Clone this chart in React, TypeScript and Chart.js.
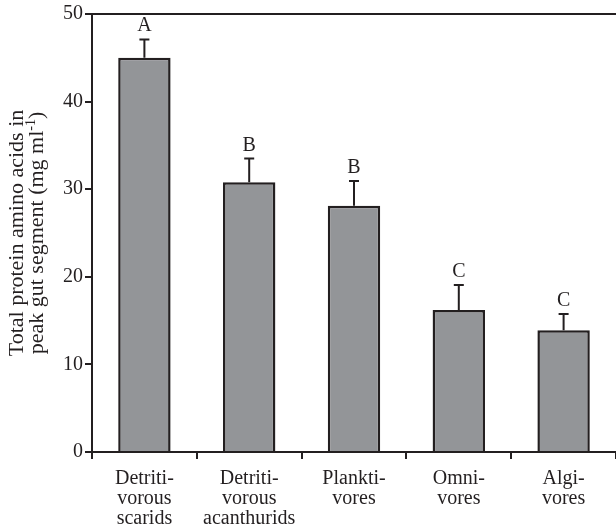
import React, { useEffect, useRef } from "react";
import { Chart, registerables } from "chart.js";

Chart.register(...registerables);

const categories: string[][] = [
  ["Detriti-", "vorous", "scarids"],
  ["Detriti-", "vorous", "acanthurids"],
  ["Plankti-", "vores"],
  ["Omni-", "vores"],
  ["Algi-", "vores"],
];
const means: number[] = [45.0, 30.8, 28.1, 16.2, 13.9];
const errors: number[] = [2.1, 2.7, 2.85, 2.85, 1.85];
const letters: string[] = ["A", "B", "B", "C", "C"];
const yTicks: number[] = [0, 10, 20, 30, 40, 50];

const INK = "#231f20";
const FONT = "'Liberation Serif', 'Times New Roman', serif";

export default function App() {
  const ref = useRef<HTMLCanvasElement | null>(null);

  useEffect(() => {
    document.body.style.margin = "0";
    const canvas = ref.current;
    if (!canvas) return;

    const extras = {
      id: "extras",
      afterDatasetsDraw(chart: any) {
        const ctx = chart.ctx;
        const y = chart.scales.y;
        const meta = chart.getDatasetMeta(0);
        const area = chart.chartArea;
        ctx.save();
        // top border
        ctx.strokeStyle = INK;
        ctx.lineWidth = 2;
        ctx.beginPath();
        ctx.moveTo(area.left - 1, area.top);
        ctx.lineTo(chart.width, area.top);
        ctx.stroke();
        // error bars + letters
        meta.data.forEach((bar: any, i: number) => {
          const x = bar.x;
          const yTop = y.getPixelForValue(means[i]);
          const yErr = y.getPixelForValue(means[i] + errors[i]);
          ctx.strokeStyle = INK;
          ctx.lineWidth = 2;
          ctx.beginPath();
          ctx.moveTo(x, yTop);
          ctx.lineTo(x, yErr);
          ctx.moveTo(x - 5, yErr);
          ctx.lineTo(x + 5, yErr);
          ctx.stroke();
          ctx.fillStyle = INK;
          ctx.font = `20px ${FONT}`;
          ctx.textAlign = "center";
          ctx.textBaseline = "alphabetic";
          ctx.fillText(letters[i], x, yErr - 8);
        });
        // y title
        const cy = (area.top + area.bottom) / 2;
        ctx.translate(0, cy);
        ctx.rotate(-Math.PI / 2);
        ctx.fillStyle = INK;
        ctx.textBaseline = "alphabetic";
        ctx.font = `22px ${FONT}`;
        ctx.textAlign = "center";
        ctx.fillText("Total protein amino acids in", 0, 23);
        const main = "peak gut segment (mg ml";
        const sup = "-1";
        const close = ")";
        ctx.font = `22px ${FONT}`;
        const wMain = ctx.measureText(main).width;
        const wClose = ctx.measureText(close).width;
        ctx.font = `14px ${FONT}`;
        const wSup = ctx.measureText(sup).width;
        const total = wMain + wSup + wClose;
        let sx = -total / 2;
        ctx.textAlign = "left";
        ctx.font = `22px ${FONT}`;
        ctx.fillText(main, sx, 43);
        sx += wMain;
        ctx.font = `14px ${FONT}`;
        ctx.fillText(sup, sx, 35);
        sx += wSup;
        ctx.font = `22px ${FONT}`;
        ctx.fillText(close, sx, 43);
        ctx.restore();
      },
    };

    const chart = new Chart(canvas, {
      type: "bar",
      data: {
        labels: categories,
        datasets: [
          {
            data: means,
            backgroundColor: "#939598",
            borderColor: INK,
            borderWidth: 2.5,
            borderSkipped: "bottom",
            barPercentage: 0.5,
            categoryPercentage: 1,
          },
        ],
      },
      options: {
        animation: false,
        responsive: false,
        maintainAspectRatio: false,
        layout: { padding: { top: 14, right: 0, left: 0, bottom: 0 } },
        plugins: {
          legend: { display: false },
          tooltip: { enabled: false },
        },
        scales: {
          x: {
            type: "category",
            grid: {
              offset: true,
              drawOnChartArea: false,
              drawTicks: true,
              tickLength: 7,
              color: INK,
              lineWidth: 2,
            },
            border: { display: true, color: INK, width: 2 },
            ticks: {
              color: INK,
              font: { family: FONT, size: 20, lineHeight: 1.0 },
              padding: 10,
              maxRotation: 0,
              autoSkip: false,
            },
            afterFit: (s: any) => {
              s.height = 79;
            },
          },
          y: {
            min: 0,
            max: 50,
            afterBuildTicks: (s: any) => {
              s.ticks = yTicks.map((v) => ({ value: v }));
            },
            grid: {
              drawOnChartArea: false,
              drawTicks: true,
              tickLength: 7,
              color: INK,
              lineWidth: 2,
            },
            border: { display: true, color: INK, width: 2 },
            ticks: {
              color: INK,
              font: { family: FONT, size: 20 },
              padding: 2,
            },
            afterFit: (s: any) => {
              s.width = 92;
            },
          },
        },
      },
      plugins: [extras],
    });
    return () => chart.destroy();
  }, []);

  return (
    <div style={{ position: "absolute", left: 0, top: 0, width: 616, height: 531 }}>
      <canvas ref={ref} width={616} height={531} style={{ width: 616, height: 531 }} />
    </div>
  );
}
